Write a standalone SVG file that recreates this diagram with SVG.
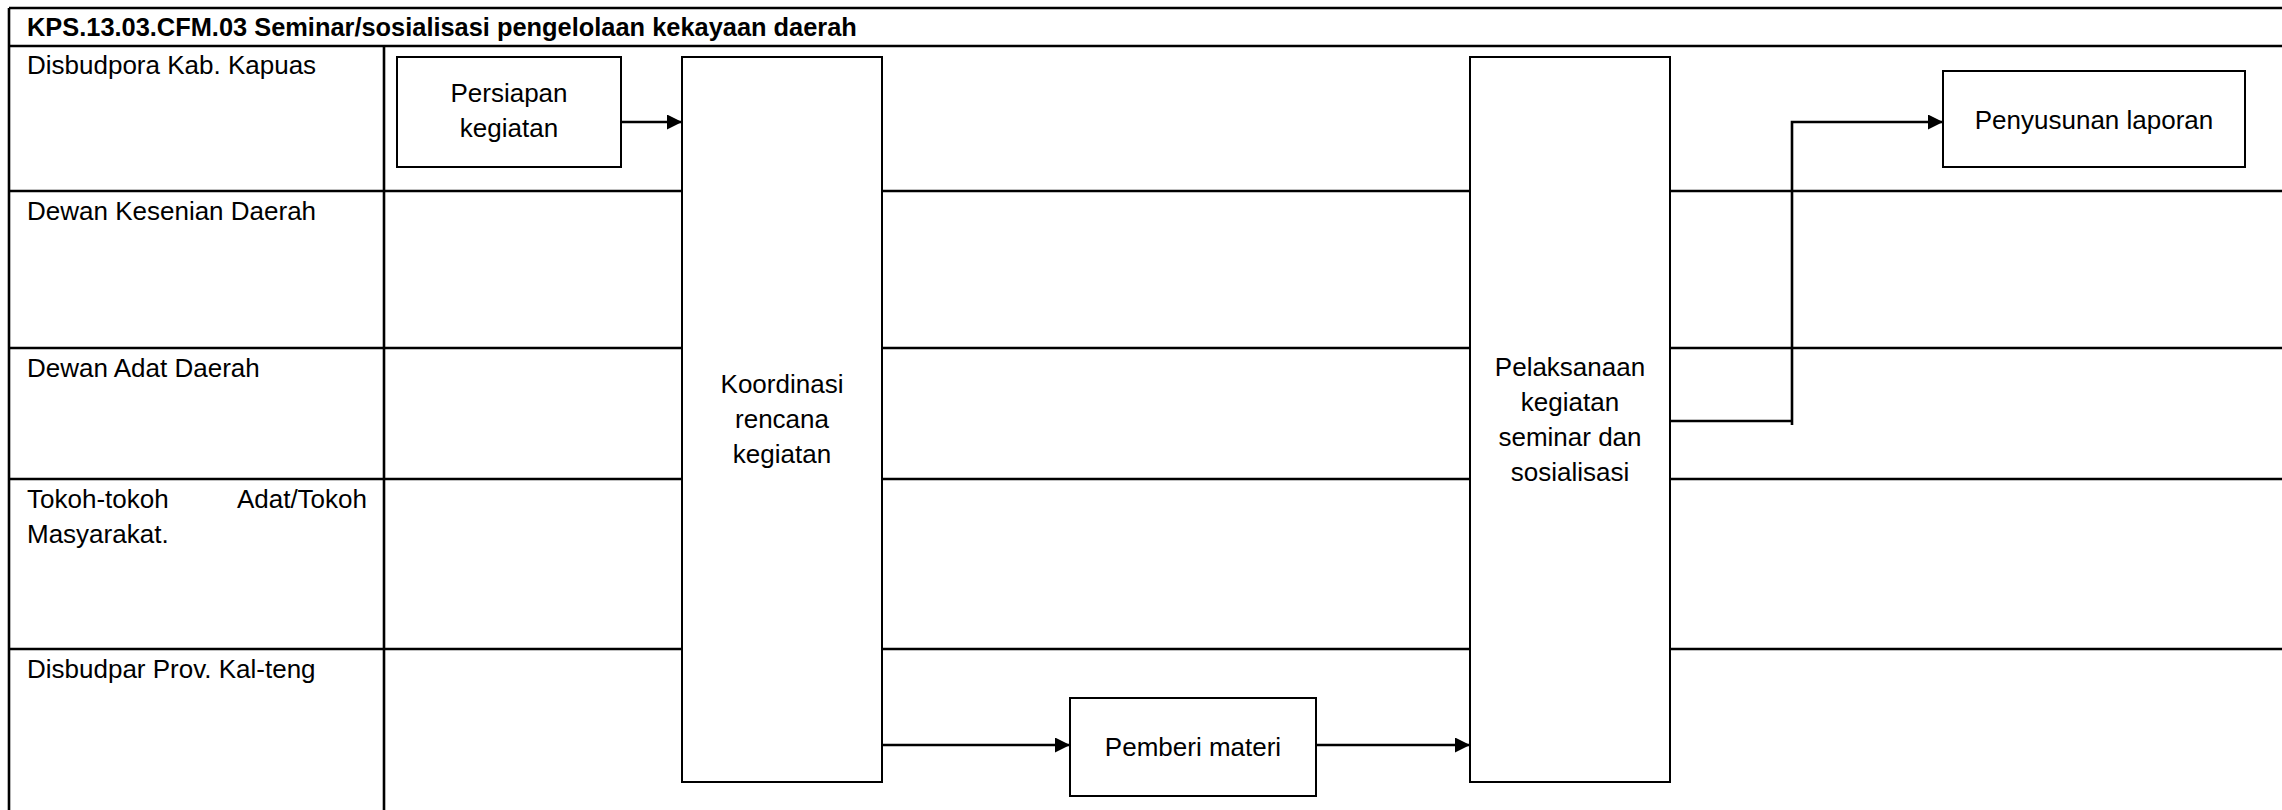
<svg xmlns="http://www.w3.org/2000/svg" width="2282" height="810" viewBox="0 0 2282 810">
<style>
.grid{stroke:#000;stroke-width:2.6;fill:none}
.box{fill:#fff;stroke:#000;stroke-width:2}
.lbl{font-family:"Liberation Sans",Arial,sans-serif;font-size:26px;fill:#000}
.ctr{text-anchor:middle}
.title{font-family:"Liberation Sans",Arial,sans-serif;font-size:25.4px;font-weight:bold;fill:#000}
.conn{stroke:#000;stroke-width:2.6;fill:none}
</style>
<defs>
<marker id="arr" markerUnits="userSpaceOnUse" markerWidth="16" markerHeight="16" refX="15" refY="7.5" orient="auto">
<path d="M0,0 L15,7.5 L0,15 z" fill="#000"/>
</marker>
</defs>
<rect width="2282" height="810" fill="#fff"/>
<g id="table">
<line class="grid" x1="9" y1="8" x2="2282" y2="8"/>
<line class="grid" x1="9" y1="46" x2="2282" y2="46"/>
<line class="grid" x1="9" y1="8" x2="9" y2="810"/>
<line class="grid" x1="384" y1="46" x2="384" y2="810"/>
<line class="grid" x1="9" y1="191" x2="2282" y2="191"/>
<line class="grid" x1="9" y1="348" x2="2282" y2="348"/>
<line class="grid" x1="9" y1="479" x2="2282" y2="479"/>
<line class="grid" x1="9" y1="649" x2="2282" y2="649"/>
<text class="title" x="27" y="36">KPS.13.03.CFM.03 Seminar/sosialisasi pengelolaan kekayaan daerah</text>
</g>
<g id="lane-disbudpora"><text class="lbl" x="27" y="74">Disbudpora Kab. Kapuas</text></g>
<g id="lane-dewan-kesenian"><text class="lbl" x="27" y="220">Dewan Kesenian Daerah</text></g>
<g id="lane-dewan-adat"><text class="lbl" x="27" y="377">Dewan Adat Daerah</text></g>
<g id="lane-tokoh"><text class="lbl" y="508"><tspan x="27">Tokoh-tokoh</tspan><tspan x="367" text-anchor="end">Adat/Tokoh</tspan><tspan x="27" y="543">Masyarakat.</tspan></text></g>
<g id="lane-disbudpar"><text class="lbl" x="27" y="678">Disbudpar Prov. Kal-teng</text></g>
<g id="persiapan">
<rect class="box" x="397" y="57" width="224" height="110"/>
<text class="lbl ctr" x="509" y="102">Persiapan</text>
<text class="lbl ctr" x="509" y="137">kegiatan</text>
</g>
<g id="koordinasi">
<rect class="box" x="682" y="57" width="200" height="725"/>
<text class="lbl ctr" x="782" y="393">Koordinasi</text>
<text class="lbl ctr" x="782" y="428">rencana</text>
<text class="lbl ctr" x="782" y="463">kegiatan</text>
</g>
<g id="pemberi">
<rect class="box" x="1070" y="698" width="246" height="98"/>
<text class="lbl ctr" x="1193" y="756">Pemberi materi</text>
</g>
<g id="pelaksanaan">
<rect class="box" x="1470" y="57" width="200" height="725"/>
<text class="lbl ctr" x="1570" y="376">Pelaksanaan</text>
<text class="lbl ctr" x="1570" y="411">kegiatan</text>
<text class="lbl ctr" x="1570" y="446">seminar dan</text>
<text class="lbl ctr" x="1570" y="481">sosialisasi</text>
</g>
<g id="penyusunan">
<rect class="box" x="1943" y="71" width="302" height="96"/>
<text class="lbl ctr" x="2094" y="129">Penyusunan laporan</text>
</g>
<g id="connectors">
<path class="conn" d="M621,122 H682" marker-end="url(#arr)"/>
<path class="conn" d="M882,745 H1070" marker-end="url(#arr)"/>
<path class="conn" d="M1316,745 H1470" marker-end="url(#arr)"/>
<path class="conn" d="M1670,421 H1792 M1792,425 V122 H1943" marker-end="url(#arr)"/>
</g>
</svg>
